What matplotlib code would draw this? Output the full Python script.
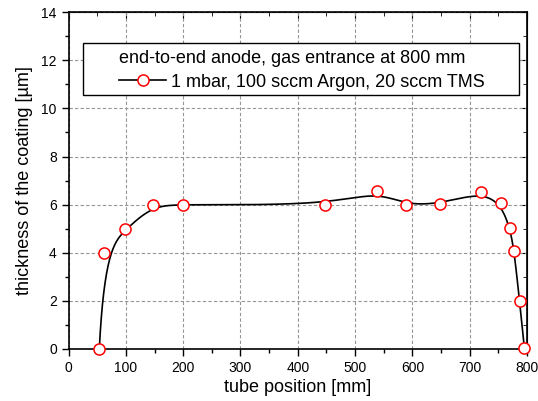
import numpy as np
import matplotlib.pyplot as plt
from matplotlib.patches import Rectangle
from matplotlib.ticker import MultipleLocator

plt.rcParams['font.family'] = ['Liberation Sans', 'DejaVu Sans']

# tube position (mm) and measured coating thickness (um)
position = [53.6, 62, 99, 148, 200, 447, 538, 589, 649, 719, 754, 770, 778, 787, 795.5]
thickness = [0.0, 4.0, 4.97, 5.98, 6.0, 5.98, 6.55, 5.98, 6.04, 6.51, 6.05, 5.04, 4.07, 2.0, 0.03]

series_label = '1 mbar, 100 sccm Argon, 20 sccm TMS'
legend_title = 'end-to-end anode, gas entrance at 800 mm'


def bspline(px, py, n=600):
    # clamped cubic B-spline using the points as control points
    k = 3
    m = len(px)
    knots = np.concatenate([np.zeros(k), np.linspace(0, 1, m - k + 1), np.ones(k)])
    t = np.linspace(0, 1, n)
    t[-1] = 1 - 1e-12
    pts = np.column_stack([px, py]).astype(float)

    def basis(i, p, u):
        if p == 0:
            return ((knots[i] <= u) & (u < knots[i + 1])).astype(float)
        a = np.zeros_like(u)
        b = np.zeros_like(u)
        d1 = knots[i + p] - knots[i]
        d2 = knots[i + p + 1] - knots[i + 1]
        if d1 > 0:
            a = (u - knots[i]) / d1 * basis(i, p - 1, u)
        if d2 > 0:
            b = (knots[i + p + 1] - u) / d2 * basis(i + 1, p - 1, u)
        return a + b

    B = np.column_stack([basis(i, k, t) for i in range(m)])
    out = B @ pts
    return out[:, 0], out[:, 1]


fig = plt.figure(figsize=(5.38, 4.01), dpi=100)
ax = fig.add_axes([0.1275, 0.1297, 0.852, 0.840])

sx, sy = bspline(position, thickness)
ax.plot(sx, sy, color='black', lw=1.2, zorder=3)
ax.plot(position, thickness, ls='none', marker='o', ms=8, mfc='white',
        mec='red', mew=1.1, zorder=4, clip_on=False)

# legend box drawn separately so it can be wider than its contents
ax.add_patch(Rectangle((0.0314, 0.754), 0.951, 0.154, transform=ax.transAxes,
                       facecolor='white', edgecolor='black', lw=1.0, zorder=5))
handle, = ax.plot([], [], color='black', lw=1.2, marker='o', ms=8,
                  mfc='white', mec='red', mew=1.1)
leg = ax.legend([handle], [series_label], title=legend_title,
                loc='center', bbox_to_anchor=(0.509, 0.828),
                frameon=False, alignment='left',
                fontsize=13, title_fontsize=13, handlelength=2.6,
                borderpad=0.1, labelspacing=0.1, handletextpad=0.28,
                borderaxespad=0)
leg.set_zorder(6)
leg._legend_box.sep = 5

ax.set_xlim(0, 800)
ax.set_ylim(0, 14)
ax.xaxis.set_major_locator(MultipleLocator(100))
ax.xaxis.set_minor_locator(MultipleLocator(50))
ax.yaxis.set_major_locator(MultipleLocator(2))
ax.yaxis.set_minor_locator(MultipleLocator(1))
ax.grid(True, which='major', ls=(0, (3, 2)), color='#959595', lw=0.8)
ax.set_axisbelow(True)

ax.tick_params(which='both', direction='out', labelsize=10, width=1, colors='black')
ax.tick_params(which='major', length=5)
ax.tick_params(which='minor', length=3)
for s in ax.spines.values():
    s.set_linewidth(1.2)

# inward ticks on the top and right axes
sec_x = ax.secondary_xaxis('top')
sec_x.xaxis.set_major_locator(MultipleLocator(100))
sec_x.xaxis.set_minor_locator(MultipleLocator(50))
sec_x.tick_params(which='both', direction='in', labeltop=False)
sec_x.tick_params(which='major', length=5)
sec_x.tick_params(which='minor', length=3)
sec_y = ax.secondary_yaxis('right')
sec_y.yaxis.set_major_locator(MultipleLocator(2))
sec_y.yaxis.set_minor_locator(MultipleLocator(1))
sec_y.tick_params(which='both', direction='in', labelright=False)
sec_y.tick_params(which='major', length=5)
sec_y.tick_params(which='minor', length=3)

ax.set_xlabel('tube position [mm]', fontsize=13, labelpad=3)
ax.set_ylabel('thickness of the coating [\u00b5m]', fontsize=13, labelpad=6)

fig.savefig('out.png', dpi=100)
